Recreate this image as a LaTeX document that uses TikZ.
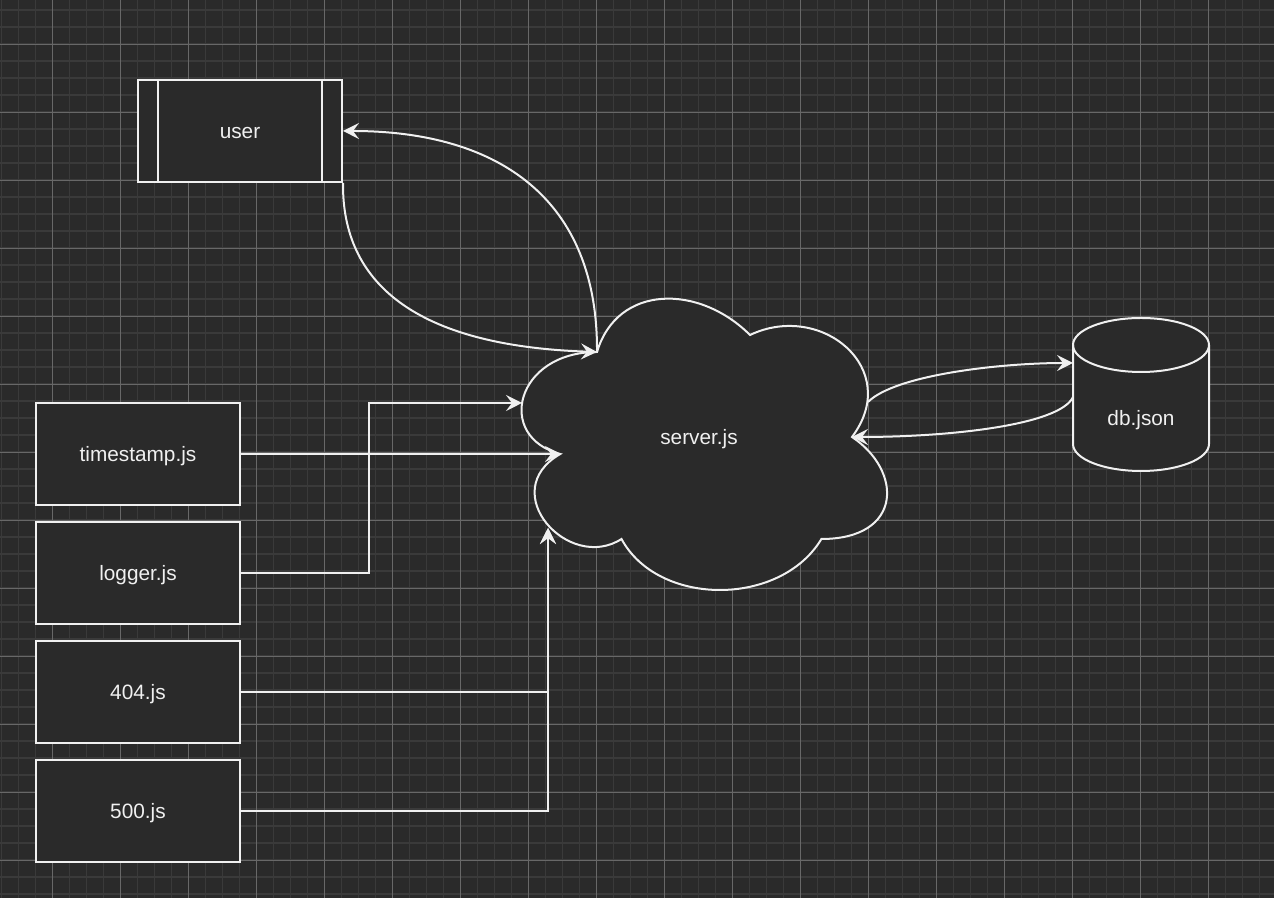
\documentclass[tikz,border=0pt]{standalone}
\usepackage{fontspec}
\setmainfont{Liberation Sans}
\usetikzlibrary{arrows.meta}

\definecolor{bgcol}{HTML}{2A2A2A}
\definecolor{minorcol}{HTML}{3A3A3A}
\definecolor{majorcol}{HTML}{686868}
\definecolor{inkcol}{HTML}{F0F0F0}

\tikzset{
  tag/.style={text=inkcol, text height=8.3pt, text depth=1pt, inner sep=0pt},
  filebox/.style={tag, draw=inkcol, fill=bgcol, line width=1pt,
    minimum width=102pt, minimum height=51pt},
  outline/.style={draw=inkcol, fill=bgcol, line width=1pt},
  link/.style={draw=inkcol, line width=1pt,
    -{Stealth[length=8pt, width=8pt, inset=3pt]}},
}

\begin{document}
\begin{tikzpicture}[x=0.5pt, y=0.5pt, font=\fontsize{10.4}{12}\selectfont]
            \useasboundingbox (0,0) rectangle (1274,898);
            \fill[bgcol] (0,0) rectangle (1274,898);
            % grid
            \foreach \x in {1.5,18.5,...,1274}
                \draw[minorcol, line width=0.7pt] (\x,0) -- (\x,898);
            \foreach \y in {888,871,...,0}
                \draw[minorcol, line width=0.7pt] (0,\y) -- (1274,\y);
            \foreach \x in {52.5,120.5,...,1274}
                \draw[majorcol, line width=0.4pt] (\x,0) -- (\x,898);
            \foreach \y in {854,786,...,0}
                \draw[majorcol, line width=0.4pt] (0,\y) -- (1274,\y);

            % user
            \node[filebox] (user) at (240,767) {user};
            \draw[draw=inkcol, line width=1pt] ([xshift=10.5pt]user.north west) -- ([xshift=10.5pt]user.south west);
            \draw[draw=inkcol, line width=1pt] ([xshift=-10.5pt]user.north east) -- ([xshift=-10.5pt]user.south east);

            % middleware files
            \node[filebox] (stamp) at (138,444) {timestamp.js};
            \node[filebox] (logger) at (138,325) {logger.js};
            \node[filebox] (nf) at (138,206) {404.js};
            \node[filebox] (se) at (138,87) {500.js};

            % server cloud
            \draw[outline] (597,546) .. controls (515.4,546) and (495,461) .. (560.3,444)
                .. controls (495,406.6) and (568.4,325) .. (621.5,359)
                .. controls (658.2,291) and (780.6,291) .. (821.4,359)
                .. controls (903,359) and (903,427) .. (852,461)
                .. controls (903,529) and (821.4,597) .. (750,563)
                .. controls (699,614) and (617.4,614) .. (597,546) -- cycle;
            \node[tag] (server) at (699,461) {server.js};
            \coordinate (srvtop) at (597,546);
            \coordinate (srvwest) at (522,495);
            \coordinate (srvnotch) at (561,444);
            \coordinate (srvsw) at (548,370);
            \coordinate (srveast) at (868,496);
            \coordinate (srvright) at (852,461);

            % db cylinder
            \draw[outline] (1073,553) -- (1073,454) arc[start angle=180, end angle=360, x radius=68, y radius=27]
                -- (1209,553) arc[start angle=0, end angle=180, x radius=68, y radius=27] -- cycle;
            \draw[draw=inkcol, line width=1pt] (1073,553) arc[start angle=180, end angle=360, x radius=68, y radius=27];
            \node[tag] (db) at (1141,480) {db.json};
            \coordinate (dbin) at (1073,535);
            \coordinate (dbout) at (1073,501);

            % connectors
            \draw[link] (user.south east) .. controls (342,615) and (415,552) .. (srvtop);
            \draw[link] (srvtop) .. controls (598,698) and (500,767) .. (user.east);
            \draw[link] (stamp.east) -- (srvnotch);
            \draw[link] (logger.east) -- ++(128,0) |- (srvwest);
            \draw[link] (nf.east) -| (srvsw);
            \draw[link] (se.east) -| (srvsw);
            \draw[link] (srveast) .. controls (895,523) and (1000,535) .. (dbin);
            \draw[link] (dbout) .. controls (1060,473) and (950,461) .. (srvright);
        \end{tikzpicture}
\end{document}
